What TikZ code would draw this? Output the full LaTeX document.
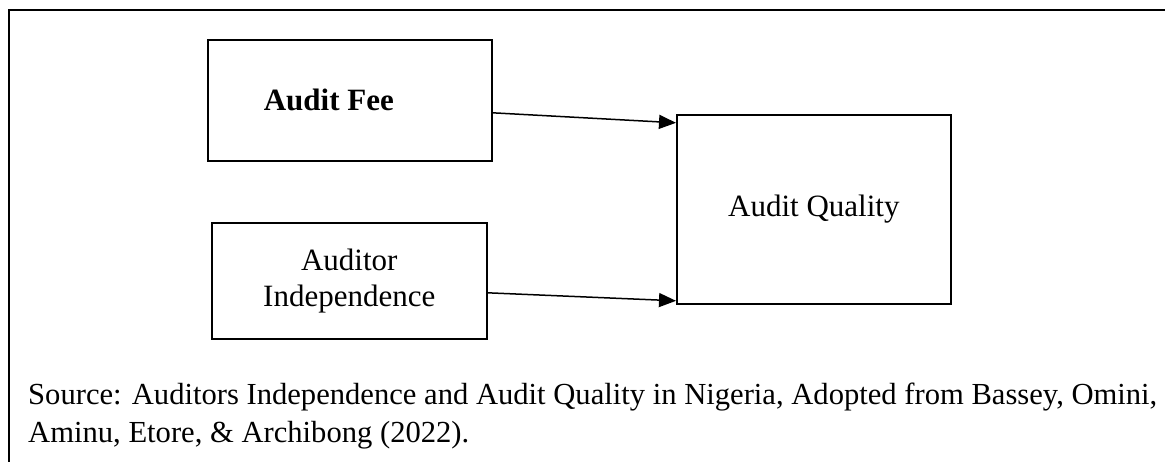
\documentclass[tikz,border=0pt]{standalone}
\usepackage{fontspec}
\setmainfont{Liberation Serif}
\usetikzlibrary{arrows.meta}
\begin{document}
\begin{tikzpicture}[x=1pt,y=-1pt,
  box/.style={draw, line width=1.6pt, minimum width=#1, inner sep=0pt, anchor=north west},
  lbl/.style={font=\fontsize{31}{36}\selectfont, align=center},
  conn/.style={line width=1.5pt, -{Triangle[length=17pt,width=14pt]}}]
\useasboundingbox (0,0) rectangle (1165,461);
\clip (0,0) rectangle (1165,461);
\fill[white] (0,0) rectangle (1165,461);
\draw[line width=2pt] (9,470) -- (9,10) -- (1175,10);
\node[box=284pt, minimum height=121pt, lbl] (af) at (207,39) {\textbf{Audit Fee}\hspace*{42pt}};
\node[box=275pt, minimum height=116pt, lbl] (ai) at (211,222) {Auditor\\Independence};
\node[box=274pt, minimum height=189pt, lbl] (aq) at (676,114) {Audit Quality};
\draw[conn] ([yshift=-12.5pt]af.east) -- ([yshift=86.5pt]aq.west);
\draw[conn] ([yshift=-12pt]ai.east) -- ([yshift=-91.5pt]aq.west);
\node[anchor=base west, inner sep=0pt, align=left, font=\fontsize{30.6}{38}\selectfont] (src) at (28,442)
  {Source: Auditors Independence and Audit Quality in Nigeria, Adopted from Bassey, Omini,\\Aminu, Etore, \& Archibong (2022).};
\end{tikzpicture}
\end{document}
